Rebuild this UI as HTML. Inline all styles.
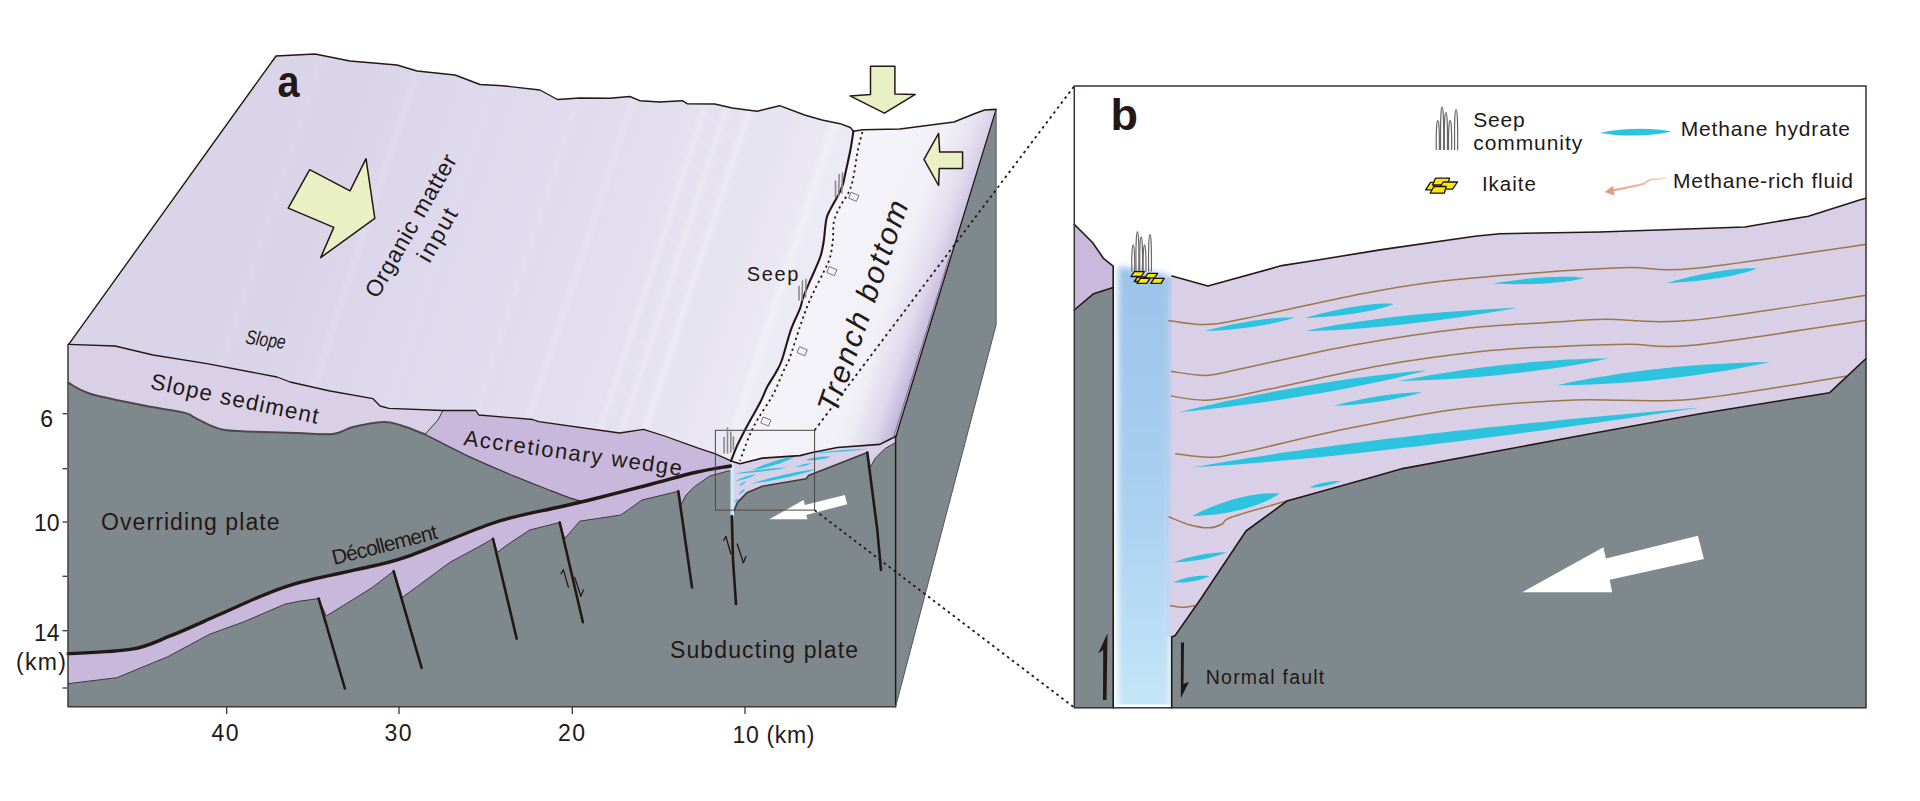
<!DOCTYPE html>
<html><head><meta charset="utf-8"><style>
html,body{margin:0;padding:0;background:#fff;}
svg{display:block;}
text{font-family:"Liberation Sans", sans-serif;}
</style></head><body>
<svg width="1920" height="801" viewBox="0 0 1920 801">
<rect width="1920" height="801" fill="#ffffff"/>

<defs>
<linearGradient id="gSlope" x1="0" y1="0" x2="1" y2="0" gradientUnits="userSpaceOnUse" gradientTransform="">
</linearGradient>
<linearGradient id="gTop" gradientUnits="userSpaceOnUse" x1="300" y1="200" x2="835" y2="395">
 <stop offset="0" stop-color="#dad4e9"/>
 <stop offset="0.45" stop-color="#e1dcee"/>
 <stop offset="0.72" stop-color="#e6e3f0"/>
 <stop offset="0.9" stop-color="#edebf5"/>
 <stop offset="1" stop-color="#f2f1f8"/>
</linearGradient>
<linearGradient id="gTrench" gradientUnits="userSpaceOnUse" x1="800" y1="300" x2="925" y2="345">
 <stop offset="0" stop-color="#f5f4f9"/>
 <stop offset="0.6" stop-color="#f1f0f7"/>
 <stop offset="0.85" stop-color="#e9e6f2"/>
 <stop offset="1" stop-color="#dcd6ea"/>
</linearGradient>
<linearGradient id="gEdge" gradientUnits="userSpaceOnUse" x1="904" y1="260" x2="946" y2="272.7">
 <stop offset="0" stop-color="#c2b6db" stop-opacity="0"/>
 <stop offset="0.55" stop-color="#c2b6db" stop-opacity="0.3"/>
 <stop offset="1" stop-color="#bcaed8" stop-opacity="0.95"/>
</linearGradient>
<linearGradient id="gCol" x1="0" y1="0" x2="0" y2="1">
 <stop offset="0" stop-color="#9cc3ea"/>
 <stop offset="0.5" stop-color="#aad0f0"/>
 <stop offset="1" stop-color="#c8e8f8"/>
</linearGradient>
<filter id="blur3" x="-50%" y="-10%" width="200%" height="120%"><feGaussianBlur stdDeviation="3"/></filter>
</defs>
<polygon points="276.0,56.0 315.0,54.0 350.0,61.0 397.0,65.0 417.0,71.0 455.0,75.0 480.0,84.5 502.5,85.7 540.0,90.0 557.4,99.5 579.9,98.0 609.8,98.2 629.8,96.5 639.8,100.7 659.8,102.0 682.2,100.7 687.2,103.7 714.7,104.0 732.2,108.0 757.1,111.2 779.6,105.7 804.6,115.0 822.0,120.0 840.0,123.7 850.4,127.5 853.4,131.2 850.4,150.0 845.9,171.0 842.9,184.4 838.4,194.9 830.9,208.4 826.4,218.9 823.9,240.0 820.9,255.0 814.9,270.0 808.9,283.4 802.9,298.4 799.9,308.9 790.9,329.9 781.9,360.0 775.9,372.5 766.9,387.5 760.9,400.9 744.5,430.9 737.0,445.9 731.0,460.9 715.4,453.9 697.5,447.9 664.5,436.0 643.5,429.3 619.6,433.0 538.7,421.6 532.7,419.5 478.8,415.0 475.8,410.5 442.9,410.5 389.0,408.4 380.0,406.0 373.0,398.7 330.0,391.0 290.0,382.0 277.0,377.0 207.0,363.7 153.0,355.0 115.0,346.0 68.7,344.3" fill="url(#gTop)" stroke="none" stroke-width="0" stroke-linejoin="round" /><polygon points="853.4,131.2 863.1,129.7 900.0,129.0 954.0,122.0 975.0,113.6 984.5,110.0 996.0,109.4 896.0,436.2 879.8,444.4 837.3,447.5 812.4,452.5 799.9,455.6 762.4,458.1 740.0,463.7 731.0,460.9 737.0,445.9 744.5,430.9 760.9,400.9 766.9,387.5 775.9,372.5 781.9,360.0 790.9,329.9 799.9,308.9 802.9,298.4 808.9,283.4 814.9,270.0 820.9,255.0 823.9,240.0 826.4,218.9 830.9,208.4 838.4,194.9 842.9,184.4 845.9,171.0 850.4,150.0" fill="url(#gTrench)" stroke="none" stroke-width="0" stroke-linejoin="round" /><clipPath id="cpSlope"><polygon points="276.0,56.0 315.0,54.0 350.0,61.0 397.0,65.0 417.0,71.0 455.0,75.0 480.0,84.5 502.5,85.7 540.0,90.0 557.4,99.5 579.9,98.0 609.8,98.2 629.8,96.5 639.8,100.7 659.8,102.0 682.2,100.7 687.2,103.7 714.7,104.0 732.2,108.0 757.1,111.2 779.6,105.7 804.6,115.0 822.0,120.0 840.0,123.7 850.4,127.5 853.4,131.2 850.4,150.0 845.9,171.0 842.9,184.4 838.4,194.9 830.9,208.4 826.4,218.9 823.9,240.0 820.9,255.0 814.9,270.0 808.9,283.4 802.9,298.4 799.9,308.9 790.9,329.9 781.9,360.0 775.9,372.5 766.9,387.5 760.9,400.9 744.5,430.9 737.0,445.9 731.0,460.9 715.4,453.9 697.5,447.9 664.5,436.0 643.5,429.3 619.6,433.0 538.7,421.6 532.7,419.5 478.8,415.0 475.8,410.5 442.9,410.5 389.0,408.4 380.0,406.0 373.0,398.7 330.0,391.0 290.0,382.0 277.0,377.0 207.0,363.7 153.0,355.0 115.0,346.0 68.7,344.3"/></clipPath><filter id="blur2" x="-20%" y="-20%" width="140%" height="140%"><feGaussianBlur stdDeviation="2.2"/></filter><g clip-path="url(#cpSlope)"><g filter="url(#blur2)"><line x1="600" y1="430" x2="740" y2="0" stroke="#ffffff" stroke-opacity="0.4" stroke-width="3"/><line x1="622" y1="430" x2="762" y2="0" stroke="#ffffff" stroke-opacity="0.35" stroke-width="4"/><line x1="645" y1="430" x2="785" y2="0" stroke="#ffffff" stroke-opacity="0.3" stroke-width="6"/><line x1="470" y1="430" x2="610" y2="0" stroke="#ffffff" stroke-opacity="0.12" stroke-width="5"/><line x1="525" y1="430" x2="665" y2="0" stroke="#ffffff" stroke-opacity="0.12" stroke-width="6"/><line x1="300" y1="430" x2="440" y2="0" stroke="#ffffff" stroke-opacity="0.1" stroke-width="6"/><line x1="380" y1="430" x2="520" y2="0" stroke="#ffffff" stroke-opacity="0.08" stroke-width="4"/><line x1="735" y1="430" x2="875" y2="0" stroke="#ffffff" stroke-opacity="0.28" stroke-width="8"/><line x1="775" y1="430" x2="915" y2="0" stroke="#ffffff" stroke-opacity="0.28" stroke-width="6"/><line x1="200" y1="430" x2="340" y2="0" stroke="#ffffff" stroke-opacity="0.08" stroke-width="5"/></g></g><clipPath id="cpTrench"><polygon points="853.4,131.2 863.1,129.7 900.0,129.0 954.0,122.0 975.0,113.6 984.5,110.0 996.0,109.4 896.0,436.2 879.8,444.4 837.3,447.5 812.4,452.5 799.9,455.6 762.4,458.1 740.0,463.7 731.0,460.9 737.0,445.9 744.5,430.9 760.9,400.9 766.9,387.5 775.9,372.5 781.9,360.0 790.9,329.9 799.9,308.9 802.9,298.4 808.9,283.4 814.9,270.0 820.9,255.0 823.9,240.0 826.4,218.9 830.9,208.4 838.4,194.9 842.9,184.4 845.9,171.0 850.4,150.0"/></clipPath><linearGradient id="gV" gradientUnits="userSpaceOnUse" x1="0" y1="120" x2="0" y2="440"><stop offset="0" stop-color="#505050"/><stop offset="1" stop-color="#ffffff"/></linearGradient><mask id="mEdge" maskUnits="userSpaceOnUse" x="780" y="90" width="240" height="370"><rect x="780" y="90" width="240" height="370" fill="url(#gV)"/></mask><g clip-path="url(#cpTrench)"><g mask="url(#mEdge)"><rect x="780" y="90" width="240" height="370" fill="url(#gEdge)"/></g></g><polygon points="996.1,109.4 996.1,324.9 895.6,706.7 895.6,436.2" fill="#7f898d" stroke="none" stroke-width="0" stroke-linejoin="round" /><polygon points="68.7,344.3 115.0,346.0 153.0,355.0 207.0,363.7 277.0,377.0 290.0,382.0 330.0,391.0 373.0,398.7 380.0,406.0 389.0,408.4 442.9,410.5 475.8,410.5 478.8,415.0 532.7,419.5 538.7,421.6 619.6,433.0 643.5,429.3 664.5,436.0 697.5,447.9 715.4,453.9 715.4,453.9 731.0,460.9 740.0,463.7 762.4,458.1 799.9,455.6 812.4,452.5 837.3,447.5 879.8,444.4 896.0,436.2 895.6,436.2 895.6,706.7 68.0,706.7" fill="#7f898d" stroke="none" stroke-width="0" stroke-linejoin="round" /><polygon points="68.7,344.3 115.0,346.0 153.0,355.0 207.0,363.7 277.0,377.0 290.0,382.0 330.0,391.0 373.0,398.7 380.0,406.0 389.0,408.4 442.9,410.5 438.0,420.0 424.9,434.4 400.0,425.0 383.0,422.0 353.0,427.0 333.0,433.7 233.0,431.0 213.0,427.0 187.0,413.7 113.0,400.0 90.0,393.7 68.7,383.0" fill="#d9d0e8" stroke="none" stroke-width="0" stroke-linejoin="round" /><polygon points="442.9,410.5 475.8,410.5 478.8,415.0 532.7,419.5 538.7,421.6 619.6,433.0 643.5,429.3 664.5,436.0 697.5,447.9 715.4,453.9 731.0,460.9 730.4,466.0 695.0,472.5 650.0,484.5 589.6,500.0 577.7,500.3 544.7,488.3 514.8,476.4 469.8,456.9 424.9,434.4 438.0,420.0" fill="#c8b8dc" stroke="none" stroke-width="0" stroke-linejoin="round" /><polygon points="68.1,653.7 131.9,649.2 170.8,635.7 218.7,614.8 266.6,593.8 300.0,582.4 354.9,569.9 404.9,557.4 494.8,522.5 557.2,507.5 589.6,500.0 650.0,484.5 695.0,472.5 730.4,466.0 730.4,471.9 729.3,470.7 709.8,476.0 694.8,486.4 686.0,495.0 681.0,504.8 678.3,491.3 642.0,500.0 620.8,515.0 579.7,521.2 564.7,538.7 559.7,522.5 529.7,530.0 507.2,544.9 497.3,552.4 493.0,538.7 479.8,546.2 449.8,562.4 402.4,597.4 393.6,571.2 372.4,587.4 352.4,599.9 326.2,616.1 318.7,598.6 300.0,601.1 284.6,604.3 242.7,622.3 209.7,634.2 167.8,656.7 116.9,677.7 68.1,683.7" fill="#c8b8dc" stroke="none" stroke-width="0" stroke-linejoin="round" /><polyline points="730.4,471.9 729.3,470.7 709.8,476.0 694.8,486.4 686.0,495.0 681.0,504.8 678.3,491.3 642.0,500.0 620.8,515.0 579.7,521.2 564.7,538.7 559.7,522.5 529.7,530.0 507.2,544.9 497.3,552.4 493.0,538.7 479.8,546.2 449.8,562.4 402.4,597.4 393.6,571.2 372.4,587.4 352.4,599.9 326.2,616.1 318.7,598.6 300.0,601.1 284.6,604.3 242.7,622.3 209.7,634.2 167.8,656.7 116.9,677.7 68.1,683.7" fill="none" stroke="#3c3a3a" stroke-width="1.0" stroke-linejoin="round" stroke-linecap="round" /><path d="M424.9,434.4 C432.4,438.1 454.8,449.9 469.8,456.9 C484.8,463.9 502.3,471.2 514.8,476.4 C527.3,481.6 534.2,484.3 544.7,488.3 C555.2,492.3 570.2,498.4 577.7,500.3 C585.2,502.2 587.6,500.1 589.6,500.0" fill="none" stroke="#3c3a3a" stroke-width="1.2" stroke-linejoin="round" stroke-linecap="round" /><path d="M68.7,383.0 C72.2,384.8 78.1,390.1 90.0,393.7 C101.9,397.3 124.4,401.6 140.0,404.8 C155.6,408.0 174.8,410.5 183.8,412.6 C192.8,414.7 189.7,415.1 194.2,417.3 C198.7,419.5 206.0,423.5 210.8,425.6 C215.7,427.7 217.7,428.8 223.3,429.8 C228.9,430.8 232.0,430.9 244.2,431.4 C256.4,431.9 281.6,432.5 296.3,432.9 C311.1,433.3 323.2,435.0 332.7,434.0 C342.1,433.0 344.6,429.0 353.0,427.0 C361.4,425.0 375.2,422.3 383.0,422.0 C390.8,421.7 393.0,422.9 400.0,425.0 C407.0,427.1 420.8,432.8 424.9,434.4" fill="none" stroke="#4a4a4a" stroke-width="2.0" stroke-linejoin="round" stroke-linecap="round" /><polyline points="442.9,410.5 438.0,420.0 424.9,434.4" fill="none" stroke="#3c3a3a" stroke-width="1.0" stroke-linejoin="round" stroke-linecap="round" /><polygon points="731.0,460.9 740.0,463.7 762.4,458.1 799.9,455.6 812.4,452.5 837.3,447.5 879.8,444.4 896.0,436.2 895.6,442.5 884.8,448.7 874.8,458.7 871.0,466.2 867.3,452.5 808.6,475.6 806.1,478.7 762.4,486.2 747.4,492.4 737.5,502.4 731.8,516.1" fill="#d8d0e8" stroke="none" stroke-width="0" stroke-linejoin="round" /><polyline points="867.3,452.5 808.6,475.6 806.1,478.7 762.4,486.2 747.4,492.4 737.5,502.4 731.8,516.1" fill="none" stroke="#3c3a3a" stroke-width="1.6" stroke-linejoin="round" stroke-linecap="round" /><polyline points="895.6,442.5 884.8,448.7 874.8,458.7 871.0,466.2" fill="none" stroke="#3c3a3a" stroke-width="1.0" stroke-linejoin="round" stroke-linecap="round" /><rect x="730.5" y="462" width="3.5" height="54" fill="#cfeaf6"/><path d="M752.4,470.0 C765.7,463.2 782.2,458.1 794.9,456.8 C783.8,462.9 767.2,468.1 752.4,470.0Z" fill="#2bc3dd"/><path d="M735.0,473.7 C752.1,470.4 772.6,468.0 787.4,467.5 C772.9,470.5 752.4,472.9 735.0,473.7Z" fill="#2bc3dd"/><path d="M805.5,460.0 C813.7,457.0 823.7,455.8 831.1,456.8 C824.2,459.6 814.2,460.8 805.5,460.0Z" fill="#2bc3dd"/><path d="M794.9,467.5 C800.4,465.0 807.2,463.2 812.4,463.1 C807.8,465.4 800.9,467.1 794.9,467.5Z" fill="#2bc3dd"/><path d="M751.2,483.7 C772.2,476.9 797.5,471.3 816.1,469.3 C798.4,475.4 773.1,481.0 751.2,483.7Z" fill="#2bc3dd"/><path d="M735.0,481.2 C741.6,477.8 749.9,475.1 756.2,474.3 C750.6,477.4 742.4,480.1 735.0,481.2Z" fill="#2bc3dd"/><path d="M738.7,486.2 C740.6,483.6 743.5,481.7 746.2,481.2 C744.7,483.5 741.8,485.5 738.7,486.2Z" fill="#2bc3dd"/><path d="M738.7,494.9 C739.9,492.0 742.4,489.6 745.0,488.7 C744.1,491.3 741.6,493.7 738.7,494.9Z" fill="#2bc3dd"/><path d="M734.3,502.4 C735.1,500.4 736.9,499.0 738.7,498.7 C738.1,500.5 736.4,501.9 734.3,502.4Z" fill="#2bc3dd"/><path d="M814.9,453.1 C832.5,450.7 853.4,449.0 868.5,448.7 C853.6,450.9 832.7,452.6 814.9,453.1Z" fill="#2bc3dd"/><path d="M68.1,653.7 C78.7,653.0 114.8,652.2 131.9,649.2 C149.0,646.2 156.3,641.4 170.8,635.7 C185.3,630.0 202.7,621.8 218.7,614.8 C234.7,607.8 253.1,599.2 266.6,593.8 C280.2,588.4 285.3,586.4 300.0,582.4 C314.7,578.4 337.4,574.1 354.9,569.9 C372.4,565.7 381.6,565.3 404.9,557.4 C428.2,549.5 469.4,530.8 494.8,522.5 C520.2,514.2 541.4,511.2 557.2,507.5 C573.0,503.8 574.1,503.8 589.6,500.0 C605.1,496.2 632.4,489.1 650.0,484.5 C667.6,479.9 681.6,475.6 695.0,472.5 C708.4,469.4 724.5,467.1 730.4,466.0" fill="none" stroke="#231815" stroke-width="3.4" stroke-linejoin="round" stroke-linecap="round" /><polyline points="318.7,598.6 344.9,688.5" fill="none" stroke="#231815" stroke-width="2.6" stroke-linejoin="round" stroke-linecap="round" /><polyline points="393.6,571.2 421.6,667.8" fill="none" stroke="#231815" stroke-width="2.6" stroke-linejoin="round" stroke-linecap="round" /><polyline points="493.0,538.7 516.7,638.6" fill="none" stroke="#231815" stroke-width="2.6" stroke-linejoin="round" stroke-linecap="round" /><polyline points="559.7,522.5 582.9,622.3" fill="none" stroke="#231815" stroke-width="2.6" stroke-linejoin="round" stroke-linecap="round" /><polyline points="678.3,491.3 692.0,587.4" fill="none" stroke="#231815" stroke-width="2.6" stroke-linejoin="round" stroke-linecap="round" /><polyline points="731.8,516.0 733.0,560.0 736.0,604.0" fill="none" stroke="#231815" stroke-width="2.6" stroke-linejoin="round" stroke-linecap="round" /><polyline points="867.3,452.5 877.3,530.0 881.0,570.0" fill="none" stroke="#231815" stroke-width="2.6" stroke-linejoin="round" stroke-linecap="round" /><polyline points="568.4,587.4 563.4,569.9" fill="none" stroke="#231815" stroke-width="1.3" stroke-linejoin="round" stroke-linecap="round" /><polyline points="563.4,569.9 561.0,573.7" fill="none" stroke="#231815" stroke-width="1.3" stroke-linejoin="round" stroke-linecap="round" /><polyline points="574.7,577.4 580.9,596.1" fill="none" stroke="#231815" stroke-width="1.3" stroke-linejoin="round" stroke-linecap="round" /><polyline points="580.9,596.1 583.4,589.9" fill="none" stroke="#231815" stroke-width="1.3" stroke-linejoin="round" stroke-linecap="round" /><polyline points="730.9,554.0 725.9,536.5" fill="none" stroke="#231815" stroke-width="1.3" stroke-linejoin="round" stroke-linecap="round" /><polyline points="725.9,536.5 723.5,540.3" fill="none" stroke="#231815" stroke-width="1.3" stroke-linejoin="round" stroke-linecap="round" /><polyline points="737.2,544.0 743.4,562.7" fill="none" stroke="#231815" stroke-width="1.3" stroke-linejoin="round" stroke-linecap="round" /><polyline points="743.4,562.7 745.9,556.5" fill="none" stroke="#231815" stroke-width="1.3" stroke-linejoin="round" stroke-linecap="round" /><polyline points="68.7,344.3 115.0,346.0 153.0,355.0 207.0,363.7 277.0,377.0 290.0,382.0 330.0,391.0 373.0,398.7 380.0,406.0 389.0,408.4 442.9,410.5 475.8,410.5 478.8,415.0 532.7,419.5 538.7,421.6 619.6,433.0 643.5,429.3 664.5,436.0 697.5,447.9 715.4,453.9 731.0,460.9" fill="none" stroke="#231815" stroke-width="1.3" stroke-linejoin="round" stroke-linecap="round" /><polyline points="731.0,460.9 740.0,463.7 762.4,458.1 799.9,455.6 812.4,452.5 837.3,447.5 879.8,444.4 896.0,436.2" fill="none" stroke="#231815" stroke-width="1.6" stroke-linejoin="round" stroke-linecap="round" /><polyline points="68.7,344.3 276.0,56.0 315.0,54.0 350.0,61.0 397.0,65.0 417.0,71.0 455.0,75.0 480.0,84.5 502.5,85.7 540.0,90.0 557.4,99.5 579.9,98.0 609.8,98.2 629.8,96.5 639.8,100.7 659.8,102.0 682.2,100.7 687.2,103.7 714.7,104.0 732.2,108.0 757.1,111.2 779.6,105.7 804.6,115.0 822.0,120.0 840.0,123.7 850.4,127.5 853.4,131.2" fill="none" stroke="#231815" stroke-width="1.4" stroke-linejoin="round" stroke-linecap="round" /><polyline points="853.4,131.2 863.1,129.7 900.0,129.0 954.0,122.0 975.0,113.6 984.5,110.0 996.0,109.4" fill="none" stroke="#231815" stroke-width="1.6" stroke-linejoin="round" stroke-linecap="round" /><path d="M853.4,131.2 C852.9,134.3 851.6,143.4 850.4,150.0 C849.1,156.6 847.1,165.3 845.9,171.0 C844.6,176.7 844.1,180.4 842.9,184.4 C841.6,188.4 840.4,190.9 838.4,194.9 C836.4,198.9 832.9,204.4 830.9,208.4 C828.9,212.4 827.6,213.6 826.4,218.9 C825.2,224.2 824.8,234.0 823.9,240.0 C823.0,246.0 822.4,250.0 820.9,255.0 C819.4,260.0 816.9,265.3 814.9,270.0 C812.9,274.7 810.9,278.7 808.9,283.4 C806.9,288.1 804.4,294.1 802.9,298.4 C801.4,302.6 801.9,303.6 799.9,308.9 C797.9,314.1 793.9,321.4 790.9,329.9 C787.9,338.4 784.4,352.9 781.9,360.0 C779.4,367.1 778.4,367.9 775.9,372.5 C773.4,377.1 769.4,382.8 766.9,387.5 C764.4,392.2 764.6,393.7 760.9,400.9 C757.2,408.1 748.5,423.4 744.5,430.9 C740.5,438.4 739.2,440.9 737.0,445.9 C734.8,450.9 732.0,458.4 731.0,460.9" fill="none" stroke="#231815" stroke-width="2.1" stroke-linejoin="round" stroke-linecap="round" /><polyline points="996.1,109.4 896.0,436.2" fill="none" stroke="#231815" stroke-width="1.3" stroke-linejoin="round" stroke-linecap="round" /><polyline points="950.0,255.0 893.3,438.0" fill="none" stroke="#6a6270" stroke-width="0.8" stroke-linejoin="round" stroke-linecap="round" /><polyline points="68.0,344.3 68.0,706.7 895.6,706.7" fill="none" stroke="#3c3838" stroke-width="1.5" stroke-linejoin="round" stroke-linecap="round" /><polyline points="895.6,436.2 895.6,706.7" fill="none" stroke="#231815" stroke-width="1.5" stroke-linejoin="round" stroke-linecap="round" /><polyline points="996.1,109.4 996.1,324.9 895.6,706.7" fill="none" stroke="#555" stroke-width="1.0" stroke-linejoin="round" stroke-linecap="round" /><path d="M862.4,132.0 C861.6,135.0 859.4,142.5 857.9,150.0 C856.4,157.5 854.9,170.0 853.4,177.0 C851.9,184.0 851.1,186.9 848.9,191.9 C846.6,196.9 842.4,201.9 839.9,206.9 C837.4,211.9 835.1,216.4 833.9,221.9 C832.7,227.4 833.6,234.0 832.9,240.0 C832.2,246.0 831.4,252.8 829.9,258.0 C828.4,263.2 826.4,266.3 823.9,271.5 C821.4,276.7 817.6,283.7 814.9,289.4 C812.1,295.1 809.9,299.6 807.4,305.9 C804.9,312.1 803.0,317.9 799.9,326.9 C796.8,335.9 791.5,353.1 789.0,360.0 C786.5,366.9 787.6,362.2 784.9,368.0 C782.2,373.8 777.4,386.4 772.9,394.9 C768.4,403.4 761.9,411.9 757.9,418.9 C753.9,425.9 751.9,429.9 748.9,436.9 C745.9,443.9 741.5,456.9 740.0,460.9" fill="none" stroke="#231815" stroke-width="1.8" stroke-linejoin="round" stroke-dasharray="2.2 3.4" stroke-linecap="butt"/><polygon points="769.3,519.3 803.6,499.9 804.9,504.9 844.8,494.9 847.3,504.3 806.1,514.9 807.4,519.3" fill="#ffffff" stroke="none" stroke-width="0" stroke-linejoin="round" /><polyline points="814.6,430.3 1074.3,86.0" fill="none" stroke="#231815" stroke-width="1.8" stroke-linejoin="round" stroke-dasharray="2.6 3.6" stroke-linecap="butt"/><polyline points="814.6,510.1 1074.3,707.6" fill="none" stroke="#231815" stroke-width="1.8" stroke-linejoin="round" stroke-dasharray="2.6 3.6" stroke-linecap="butt"/><rect x="715.4" y="430.3" width="99.2" height="79.8" fill="none" stroke="#4a4646" stroke-width="1"/><rect x="849.5999999999999" y="193.60000000000002" width="8.4" height="6.4" fill="none" stroke="#6a6470" stroke-width="0.8" transform="rotate(22 853.8 196.8)"/><rect x="827.5999999999999" y="267.90000000000003" width="8.4" height="6.4" fill="none" stroke="#6a6470" stroke-width="0.8" transform="rotate(22 831.8 271.1)"/><rect x="798.0" y="348.0" width="8.4" height="6.4" fill="none" stroke="#6a6470" stroke-width="0.8" transform="rotate(22 802.2 351.2)"/><rect x="761.5999999999999" y="418.3" width="8.4" height="6.4" fill="none" stroke="#6a6470" stroke-width="0.8" transform="rotate(22 765.8 421.5)"/><polygon points="309.7,169.7 350.0,190.8 366.0,158.7 374.8,218.3 320.7,257.6 333.8,227.4 288.2,208.1" fill="#e8f0c4" stroke="#231815" stroke-width="1.5" stroke-linejoin="round" /><polygon points="870.5,66.3 894.9,66.3 894.9,94.0 915.3,94.4 884.4,113.2 850.0,95.9 870.5,94.4" fill="#e8f0c4" stroke="#231815" stroke-width="1.5" stroke-linejoin="round" /><polygon points="924.0,159.4 938.6,133.4 939.7,152.1 962.6,152.1 962.6,168.4 939.3,168.4 938.6,185.5" fill="#e8f0c4" stroke="#231815" stroke-width="1.5" stroke-linejoin="round" /><polyline points="835.5,197.0 835.5,181.0" fill="none" stroke="#8a8a8a" stroke-width="1.6" stroke-linejoin="round" stroke-linecap="round" /><polyline points="838.5,196.0 839.2,174.5" fill="none" stroke="#8a8a8a" stroke-width="1.6" stroke-linejoin="round" stroke-linecap="round" /><polyline points="841.8,193.0 842.5,173.0" fill="none" stroke="#8a8a8a" stroke-width="1.6" stroke-linejoin="round" stroke-linecap="round" /><polyline points="799.0,300.0 799.0,286.5" fill="none" stroke="#8a8a8a" stroke-width="1.6" stroke-linejoin="round" stroke-linecap="round" /><polyline points="802.0,300.5 802.5,281.0" fill="none" stroke="#8a8a8a" stroke-width="1.6" stroke-linejoin="round" stroke-linecap="round" /><polyline points="805.5,297.0 806.0,279.5" fill="none" stroke="#8a8a8a" stroke-width="1.6" stroke-linejoin="round" stroke-linecap="round" /><polyline points="724.1,453.0 724.1,437.4" fill="none" stroke="#8a8a8a" stroke-width="1.6" stroke-linejoin="round" stroke-linecap="round" /><polyline points="727.5,453.0 727.5,428.1" fill="none" stroke="#8a8a8a" stroke-width="1.6" stroke-linejoin="round" stroke-linecap="round" /><polyline points="730.8,452.0 730.8,432.1" fill="none" stroke="#8a8a8a" stroke-width="1.6" stroke-linejoin="round" stroke-linecap="round" /><polyline points="733.4,449.0 733.4,437.1" fill="none" stroke="#8a8a8a" stroke-width="1.6" stroke-linejoin="round" stroke-linecap="round" /><polyline points="62.5,413.7 67.0,413.7" fill="none" stroke="#3a3636" stroke-width="1.3" stroke-linejoin="round" stroke-linecap="butt"/><polyline points="62.5,468.7 67.0,468.7" fill="none" stroke="#3a3636" stroke-width="1.3" stroke-linejoin="round" stroke-linecap="butt"/><polyline points="62.5,522.0 67.0,522.0" fill="none" stroke="#3a3636" stroke-width="1.3" stroke-linejoin="round" stroke-linecap="butt"/><polyline points="62.5,576.3 67.0,576.3" fill="none" stroke="#3a3636" stroke-width="1.3" stroke-linejoin="round" stroke-linecap="butt"/><polyline points="62.5,630.7 67.0,630.7" fill="none" stroke="#3a3636" stroke-width="1.3" stroke-linejoin="round" stroke-linecap="butt"/><polyline points="62.5,688.0 67.0,688.0" fill="none" stroke="#3a3636" stroke-width="1.3" stroke-linejoin="round" stroke-linecap="butt"/><polyline points="226.7,707.0 226.7,714.0" fill="none" stroke="#3a3636" stroke-width="1.3" stroke-linejoin="round" stroke-linecap="butt"/><polyline points="399.0,707.0 399.0,714.0" fill="none" stroke="#3a3636" stroke-width="1.3" stroke-linejoin="round" stroke-linecap="butt"/><polyline points="572.3,707.0 572.3,714.0" fill="none" stroke="#3a3636" stroke-width="1.3" stroke-linejoin="round" stroke-linecap="butt"/><polyline points="745.0,707.0 745.0,714.0" fill="none" stroke="#3a3636" stroke-width="1.3" stroke-linejoin="round" stroke-linecap="butt"/><g font-family="Liberation Sans, sans-serif"><text x="53" y="427" font-size="23" font-weight="normal" text-anchor="end" fill="#231815" >6</text><text x="59.5" y="530.5" font-size="23" font-weight="normal" text-anchor="end" fill="#231815" >10</text><text x="59.5" y="640.7" font-size="23" font-weight="normal" text-anchor="end" fill="#231815" >14</text><text x="16" y="670" font-size="23" font-weight="normal" text-anchor="start" fill="#231815" textLength="50" lengthAdjust="spacing" >(km)</text><text x="225" y="740.5" font-size="23" font-weight="normal" text-anchor="middle" fill="#231815" textLength="27" lengthAdjust="spacing" >40</text><text x="398" y="740.5" font-size="23" font-weight="normal" text-anchor="middle" fill="#231815" textLength="27" lengthAdjust="spacing" >30</text><text x="571.5" y="740.5" font-size="23" font-weight="normal" text-anchor="middle" fill="#231815" textLength="27" lengthAdjust="spacing" >20</text><text x="732.5" y="742.5" font-size="23" font-weight="normal" text-anchor="start" fill="#231815" textLength="82" lengthAdjust="spacing" >10 (km)</text><text x="101" y="530" font-size="23" font-weight="normal" text-anchor="start" fill="#231815" textLength="178.5" lengthAdjust="spacing" >Overriding plate</text><text x="670" y="657.5" font-size="23" font-weight="normal" text-anchor="start" fill="#231815" textLength="188" lengthAdjust="spacing" >Subducting plate</text><text x="149.5" y="388.5" font-size="22.5" font-weight="normal" text-anchor="start" fill="#231815" textLength="171" lengthAdjust="spacing" transform="rotate(11.9 149.5 388.5)" >Slope sediment</text><text x="463" y="445" font-size="22" font-weight="normal" text-anchor="start" fill="#231815" textLength="220" lengthAdjust="spacing" transform="rotate(8 463 445)" >Accretionary wedge</text><text x="334" y="565.1" font-size="21" font-weight="normal" text-anchor="start" fill="#231815" textLength="108" lengthAdjust="spacing" transform="rotate(-14.3 334 565.1)" >Décollement</text><text x="746.7" y="281.2" font-size="20" font-weight="normal" text-anchor="start" fill="#231815" textLength="51.7" lengthAdjust="spacing" >Seep</text><text x="245" y="343.5" font-size="20" font-weight="normal" text-anchor="start" fill="#231815" textLength="40" lengthAdjust="spacingAndGlyphs" transform="rotate(8 245 343.5)" font-style="italic" >Slope</text><text x="377.5" y="299.5" font-size="23" font-weight="normal" text-anchor="start" fill="#231815" textLength="161" lengthAdjust="spacing" transform="rotate(-60.2 377.5 299.5)" >Organic matter</text><text x="429.5" y="264" font-size="23" font-weight="normal" text-anchor="start" fill="#231815" textLength="58" lengthAdjust="spacing" transform="rotate(-60.2 429.5 264)" >input</text><text x="836.5" y="414.5" font-size="30.5" font-weight="normal" text-anchor="start" fill="#231815" textLength="222" lengthAdjust="spacing" transform="rotate(-71.0 836.5 414.5)" font-style="italic" >Trench bottom</text><text x="277.5" y="97" font-size="44" font-weight="bold" text-anchor="start" fill="#231815" textLength="22" lengthAdjust="spacingAndGlyphs" >a</text></g><polygon points="1074.2,224.2 1092.5,242.5 1103.7,258.7 1113.2,266.2 1113.2,287.5 1093.7,293.7 1074.2,310.0" fill="#c9badd" stroke="none" stroke-width="0" stroke-linejoin="round" /><polygon points="1074.2,310.0 1093.7,293.7 1113.2,287.5 1113.2,708.0 1074.2,708.0" fill="#7f898d" stroke="none" stroke-width="0" stroke-linejoin="round" /><polygon points="1166.0,278.0 1172.0,276.0 1207.9,286.0 1281.8,265.6 1317.7,260.0 1380.0,249.9 1474.9,236.2 1499.8,233.7 1600.0,232.0 1744.8,227.0 1808.4,216.2 1859.6,200.0 1866.0,198.3 1866.0,358.5 1866.0,358.5 1829.7,392.7 1784.7,400.0 1700.0,413.7 1600.0,432.0 1402.5,468.6 1380.0,474.9 1287.0,501.0 1246.0,531.0 1200.0,600.0 1175.0,635.8 1171.7,636.7 1166.0,636.7" fill="#d9d0e8" stroke="none" stroke-width="0" stroke-linejoin="round" /><polygon points="1171.7,636.7 1175.0,635.8 1200.0,600.0 1246.0,531.0 1287.0,501.0 1380.0,474.9 1402.5,468.6 1600.0,432.0 1700.0,413.7 1784.7,400.0 1829.7,392.7 1866.0,358.5 1866.0,708.0 1171.7,708.0" fill="#7f898d" stroke="none" stroke-width="0" stroke-linejoin="round" /><clipPath id="cpCol"><rect x="1114" y="200" width="58" height="504.5"/></clipPath><g clip-path="url(#cpCol)"><g filter="url(#blur3)"><polygon points="1118,266 1170,275 1170,730 1118,730" fill="url(#gCol)"/></g></g><path d="M1168.2,320.4 C1174.2,321.1 1191.6,324.8 1204.0,324.6 C1216.4,324.4 1217.7,323.8 1242.4,319.0 C1267.1,314.2 1320.2,301.9 1352.3,295.7 C1384.3,289.5 1400.1,286.1 1434.7,282.0 C1469.3,277.9 1527.5,273.4 1560.0,271.0 C1592.5,268.6 1607.5,267.8 1629.6,267.4 C1651.7,267.0 1653.1,272.4 1692.4,268.6 C1731.7,264.8 1836.6,248.4 1865.4,244.4" fill="none" stroke="#9c7748" stroke-width="1.5"/><path d="M1171.0,371.3 C1177.0,372.0 1194.8,375.9 1206.7,375.4 C1218.6,374.9 1218.1,373.5 1242.4,368.5 C1266.7,363.5 1315.7,351.8 1352.3,345.2 C1388.9,338.6 1427.6,332.6 1462.2,328.7 C1496.8,324.8 1536.2,323.4 1560.0,321.8 C1583.8,320.2 1582.6,319.6 1604.7,319.3 C1626.8,319.1 1649.0,324.3 1692.4,320.3 C1735.9,316.3 1836.6,299.5 1865.4,295.4" fill="none" stroke="#9c7748" stroke-width="1.5"/><path d="M1171.0,396.0 C1177.4,396.7 1193.0,401.2 1209.5,400.0 C1226.0,398.8 1241.5,394.7 1269.9,389.0 C1298.3,383.3 1343.2,372.1 1379.8,365.7 C1416.4,359.3 1459.7,353.8 1489.7,350.6 C1519.7,347.4 1536.7,347.6 1560.0,346.5 C1583.3,345.4 1607.5,344.5 1629.6,344.3 C1651.7,344.1 1653.1,349.2 1692.4,345.3 C1731.7,341.4 1836.6,324.7 1865.4,320.6" fill="none" stroke="#9c7748" stroke-width="1.5"/><path d="M1175.1,453.7 C1180.8,454.3 1198.3,457.5 1209.5,457.3 C1220.7,457.1 1218.6,457.2 1242.4,452.3 C1266.2,447.4 1315.7,434.9 1352.3,427.6 C1388.9,420.3 1425.1,413.0 1462.2,408.4 C1499.3,403.8 1536.3,401.5 1574.7,400.0 C1613.1,398.5 1647.0,403.2 1692.4,399.2 C1737.8,395.2 1821.2,379.9 1847.0,376.0" fill="none" stroke="#9c7748" stroke-width="1.5"/><path d="M1168.6,516.8 C1172.2,518.2 1183.1,523.2 1190.0,525.0 C1196.9,526.8 1204.5,528.0 1209.8,527.8 C1215.1,527.6 1218.3,525.8 1222.0,524.0 C1225.7,522.2 1221.2,520.8 1232.0,517.0 C1242.8,513.2 1274.1,504.7 1287.0,501.0 C1299.9,497.3 1305.8,495.9 1309.6,494.9" fill="none" stroke="#9c7748" stroke-width="1.5"/><path d="M1170.0,605.5 C1172.2,605.8 1178.8,607.2 1183.0,607.2 C1187.2,607.2 1193.0,605.8 1195.0,605.5" fill="none" stroke="#9c7748" stroke-width="1.5"/><path d="M1204.9,330.9 C1236.4,322.2 1272.2,316.8 1294.8,317.5 C1273.4,324.7 1237.6,330.1 1204.9,330.9Z" fill="#2bc3dd"/><path d="M1304.8,317.9 C1340.7,307.8 1377.4,302.0 1393.6,303.9 C1378.7,310.7 1342.1,316.5 1304.8,317.9Z" fill="#2bc3dd"/><path d="M1305.8,330.9 C1357.5,319.6 1435.3,311.1 1517.3,307.8 C1436.5,322.3 1358.8,330.7 1305.8,330.9Z" fill="#2bc3dd"/><path d="M1179.0,412.2 C1259.9,392.0 1356.8,375.6 1427.4,370.2 C1358.9,388.3 1262.0,404.7 1179.0,412.2Z" fill="#2bc3dd"/><path d="M1333.7,405.8 C1362.4,397.8 1397.0,392.4 1422.4,392.2 C1398.1,399.6 1363.5,404.9 1333.7,405.8Z" fill="#2bc3dd"/><path d="M1398.7,381.0 C1467.2,367.2 1549.0,358.4 1608.4,358.5 C1550.4,371.2 1468.6,379.9 1398.7,381.0Z" fill="#2bc3dd"/><path d="M1557.2,385.2 C1620.7,371.1 1702.0,362.4 1769.7,362.3 C1703.5,376.7 1622.3,385.4 1557.2,385.2Z" fill="#2bc3dd"/><path d="M1492.3,283.6 C1527.6,277.4 1565.0,275.1 1584.7,277.9 C1565.5,283.1 1528.1,285.4 1492.3,283.6Z" fill="#2bc3dd"/><path d="M1666.9,283.1 C1701.8,273.0 1738.5,267.1 1756.8,268.6 C1739.9,275.8 1703.2,281.7 1666.9,283.1Z" fill="#2bc3dd"/><path d="M1192.3,467.4 C1303.2,447.1 1485.9,425.5 1700.0,407.5 C1487.6,439.8 1304.8,461.4 1192.3,467.4Z" fill="#2bc3dd"/><path d="M1192.3,516.0 C1221.6,500.2 1256.3,491.3 1279.7,493.6 C1260.3,506.8 1225.5,515.7 1192.3,516.0Z" fill="#2bc3dd"/><path d="M1309.6,487.4 C1317.7,483.3 1329.4,481.0 1340.8,481.1 C1330.4,485.7 1318.7,488.0 1309.6,487.4Z" fill="#2bc3dd"/><path d="M1173.6,562.3 C1190.7,555.9 1211.6,552.0 1227.2,552.3 C1212.8,558.2 1191.9,562.1 1173.6,562.3Z" fill="#2bc3dd"/><path d="M1173.6,582.2 C1184.0,577.2 1197.9,574.8 1209.8,576.0 C1198.9,581.1 1185.1,583.5 1173.6,582.2Z" fill="#2bc3dd"/><polyline points="1074.2,224.2 1092.5,242.5 1103.7,258.7 1113.2,266.2 1113.2,708.0" fill="none" stroke="#231815" stroke-width="1.6" stroke-linejoin="round" stroke-linecap="round" /><polyline points="1074.2,310.0 1093.7,293.7 1113.2,287.5" fill="none" stroke="#231815" stroke-width="1.6" stroke-linejoin="round" stroke-linecap="round" /><polyline points="1172.0,276.0 1207.9,286.0 1281.8,265.6 1317.7,260.0 1380.0,249.9 1474.9,236.2 1499.8,233.7 1600.0,232.0 1744.8,227.0 1808.4,216.2 1859.6,200.0 1866.0,198.3" fill="none" stroke="#231815" stroke-width="1.6" stroke-linejoin="round" stroke-linecap="round" /><polyline points="1171.7,708.0 1171.7,636.7 1175.0,635.8 1200.0,600.0 1246.0,531.0 1287.0,501.0 1380.0,474.9 1402.5,468.6 1600.0,432.0 1700.0,413.7 1784.7,400.0 1829.7,392.7 1866.0,358.5" fill="none" stroke="#231815" stroke-width="1.6" stroke-linejoin="round" stroke-linecap="round" /><rect x="1074.3" y="86" width="791.7" height="621.8" fill="none" stroke="#3a3232" stroke-width="1.5"/><polygon points="1522.3,592.2 1603.4,547.3 1605.9,558.5 1697.9,535.8 1703.9,559.0 1609.7,579.7 1612.2,592.2" fill="#ffffff" stroke="none" stroke-width="0" stroke-linejoin="round" /><polygon points="1103.0,700.0 1106.5,700.0 1107.5,633.3 1098.3,653.3 1103.2,650.0" fill="#231815" stroke="none" stroke-width="0" stroke-linejoin="round" /><polygon points="1181.0,642.5 1184.0,642.5 1183.5,684.0 1189.0,681.7 1180.8,698.3" fill="#231815" stroke="none" stroke-width="0" stroke-linejoin="round" /><path d="M1131.8,271.5 C1131.5,252.9 1132.3,244.9 1133.2,244.9 C1134.1,244.9 1134.9,252.9 1134.6,271.5" fill="none" stroke="#6a6a6a" stroke-width="1.2"/><path d="M1136.0,271.5 C1135.7,239.9 1136.5,231.9 1137.4,231.9 C1138.3,231.9 1139.1,239.9 1138.8,271.5" fill="none" stroke="#6a6a6a" stroke-width="1.2"/><path d="M1139.8,271.5 C1139.5,244.8 1140.3,236.8 1141.2,236.8 C1142.0,236.8 1142.8,244.8 1142.5,271.5" fill="none" stroke="#6a6a6a" stroke-width="1.2"/><path d="M1143.2,271.5 C1142.9,252.9 1143.7,244.9 1144.6,244.9 C1145.4,244.9 1146.2,252.9 1145.9,271.5" fill="none" stroke="#6a6a6a" stroke-width="1.2"/><path d="M1148.6,271.5 C1148.3,242.7 1149.1,234.7 1150.0,234.7 C1150.9,234.7 1151.7,242.7 1151.4,271.5" fill="none" stroke="#6a6a6a" stroke-width="1.2"/><polygon points="1137.5,277.0 1147.0,277.0 1143.8,281.5 1134.3,281.5" fill="#ffe800" stroke="#1a1410" stroke-width="1.3" stroke-linejoin="round" /><polygon points="1134.2,271.7 1144.4,271.7 1141.1,276.5 1131.0,276.5" fill="#ffe800" stroke="#1a1410" stroke-width="1.3" stroke-linejoin="round" /><polygon points="1148.0,273.3 1157.7,273.3 1154.5,277.8 1144.8,277.8" fill="#ffe800" stroke="#1a1410" stroke-width="1.3" stroke-linejoin="round" /><polygon points="1140.3,278.4 1150.0,278.4 1146.8,283.4 1137.0,283.4" fill="#ffe800" stroke="#1a1410" stroke-width="1.3" stroke-linejoin="round" /><polygon points="1154.1,278.4 1164.2,278.4 1161.0,283.4 1150.8,283.4" fill="#ffe800" stroke="#1a1410" stroke-width="1.3" stroke-linejoin="round" /><path d="M1436.3,149.9 C1436.0,128.7 1436.8,120.7 1437.8,120.7 C1438.8,120.7 1439.6,128.7 1439.3,149.9" fill="none" stroke="#666" stroke-width="1.2"/><path d="M1440.6,149.9 C1440.3,115.2 1441.1,107.2 1442.1,107.2 C1443.1,107.2 1443.9,115.2 1443.6,149.9" fill="none" stroke="#666" stroke-width="1.2"/><path d="M1444.4,149.9 C1444.1,120.5 1444.9,112.5 1445.9,112.5 C1446.9,112.5 1447.7,120.5 1447.4,149.9" fill="none" stroke="#666" stroke-width="1.2"/><path d="M1448.6,149.9 C1448.3,128.7 1449.1,120.7 1450.1,120.7 C1451.1,120.7 1451.9,128.7 1451.6,149.9" fill="none" stroke="#666" stroke-width="1.2"/><path d="M1454.6,149.9 C1454.3,117.5 1455.1,109.5 1456.1,109.5 C1457.1,109.5 1457.9,117.5 1457.6,149.9" fill="none" stroke="#666" stroke-width="1.2"/><polygon points="1430.5,182.4 1435.0,182.4 1432.7,189.9 1425.6,189.9" fill="#ffe800" stroke="#1a1410" stroke-width="1.3" stroke-linejoin="round" /><polygon points="1435.4,178.2 1449.6,178.2 1447.0,185.0 1432.7,185.0" fill="#ffe800" stroke="#1a1410" stroke-width="1.3" stroke-linejoin="round" /><polygon points="1443.2,182.0 1457.5,182.0 1452.6,189.1 1438.7,189.1" fill="#ffe800" stroke="#1a1410" stroke-width="1.3" stroke-linejoin="round" /><polygon points="1433.9,186.5 1446.2,186.5 1444.3,193.2 1430.1,193.2" fill="#ffe800" stroke="#1a1410" stroke-width="1.3" stroke-linejoin="round" /><path d="M1599.5,133.0 C1623.1,128.1 1651.2,127.5 1671.4,131.5 C1651.4,136.3 1623.3,136.9 1599.5,133.0Z" fill="#2bc3dd"/><defs><linearGradient id="gSal" gradientUnits="userSpaceOnUse" x1="1605" y1="190" x2="1668" y2="178"><stop offset="0" stop-color="#ec9a7e"/><stop offset="0.6" stop-color="#f2b7a2"/><stop offset="1" stop-color="#fbe6dd"/></linearGradient></defs><path d="M1666.4,178.0 C1663.7,178.3 1653.9,179.0 1650.0,180.0 C1646.1,181.0 1647.2,182.7 1643.0,184.0 C1638.8,185.3 1630.7,186.8 1625.0,188.0 C1619.3,189.2 1611.7,190.5 1609.0,191.0" fill="none" stroke="url(#gSal)" stroke-width="2"/><polygon points="1604.5,192.0 1613.0,185.8 1614.5,195.5" fill="#ec9a7e" stroke="none" stroke-width="0" stroke-linejoin="round" /><g font-family="Liberation Sans, sans-serif"><text x="1473.2" y="126.7" font-size="21" font-weight="normal" text-anchor="start" fill="#231815" textLength="51.4" lengthAdjust="spacing" >Seep</text><text x="1473.2" y="149.9" font-size="21" font-weight="normal" text-anchor="start" fill="#231815" textLength="109" lengthAdjust="spacing" >community</text><text x="1481.9" y="191.1" font-size="20.5" font-weight="normal" text-anchor="start" fill="#231815" textLength="53.9" lengthAdjust="spacing" >Ikaite</text><text x="1680.7" y="136" font-size="21" font-weight="normal" text-anchor="start" fill="#231815" textLength="169.3" lengthAdjust="spacing" >Methane hydrate</text><text x="1673" y="187.8" font-size="21" font-weight="normal" text-anchor="start" fill="#231815" textLength="180" lengthAdjust="spacing" >Methane-rich fluid</text><text x="1205.8" y="683.8" font-size="19.5" font-weight="normal" text-anchor="start" fill="#231815" textLength="118.4" lengthAdjust="spacing" >Normal fault</text><text x="1110.5" y="130" font-size="45" font-weight="bold" text-anchor="start" fill="#231815" >b</text></g>
</svg></body></html>
